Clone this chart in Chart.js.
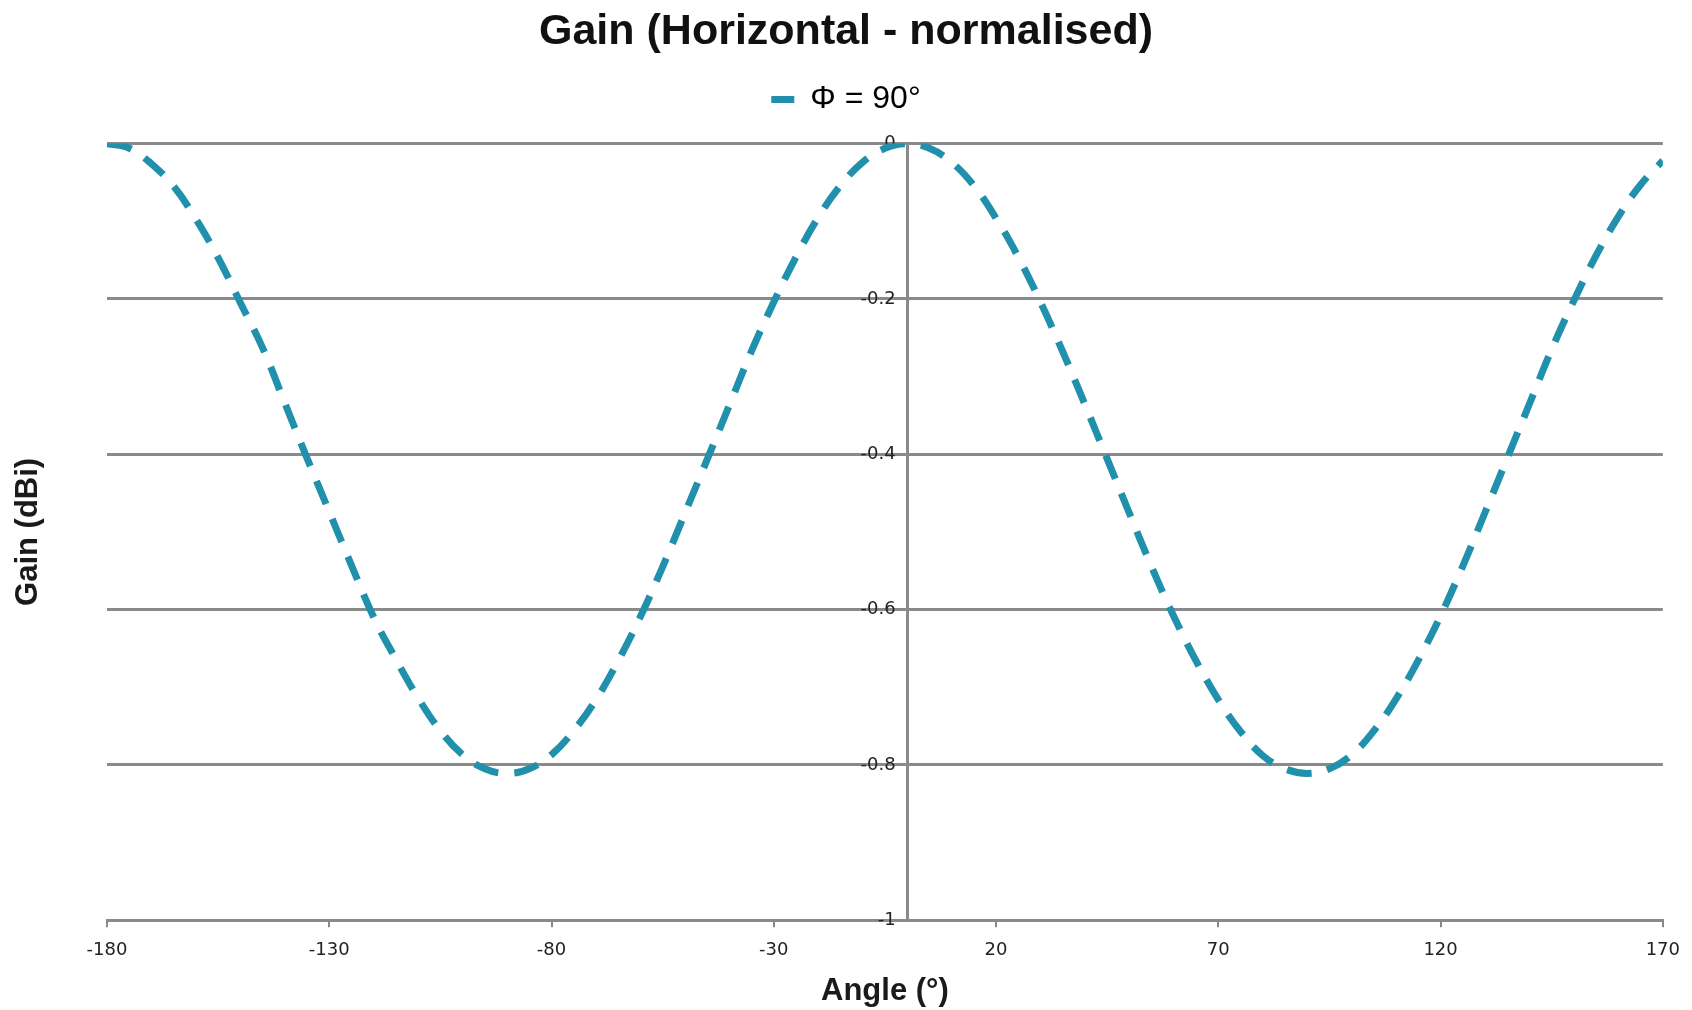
<!DOCTYPE html>
<html>
<head>
<meta charset="utf-8">
<script src="https://cdn.jsdelivr.net/npm/chart.js@4.4.0/dist/chart.umd.min.js"></script>
<style>
html,body{margin:0;padding:0;background:#fff;}
#wrap{width:1692px;height:1010px;}
</style>
</head>
<body>
<div id="wrap"><canvas id="c" width="1692" height="1010"></canvas></div>
<script>
const chartTitle = 'Gain (Horizontal - normalised)';
const seriesLabel = 'Φ = 90°';
const xAxisTitle = 'Angle (°)';
const yAxisTitle = 'Gain (dBi)';

const angles = [-180,-175,-170,-165,-160,-155,-150,-145,-140,-135,-130,-125,-120,-115,-110,-105,-100,-95,-90,
  -85,-80,-75,-70,-65,-60,-55,-50,-45,-40,-35,-30,-25,-20,-15,-10,-5,0,
  5,10,15,20,25,30,35,40,45,50,55,60,65,70,75,80,85,90,
  95,100,105,110,115,120,125,130,135,140,145,150,155,160,165,170];
const gains = [0,-0.006,-0.026,-0.055,-0.097,-0.147,-0.205,-0.263,-0.334,-0.405,-0.474,-0.543,-0.61,-0.664,-0.714,-0.756,-0.787,-0.805,-0.811,
  -0.805,-0.787,-0.756,-0.716,-0.666,-0.609,-0.545,-0.476,-0.407,-0.337,-0.267,-0.204,-0.146,-0.095,-0.054,-0.024,-0.006,0,
  -0.006,-0.024,-0.054,-0.096,-0.146,-0.204,-0.268,-0.336,-0.406,-0.476,-0.545,-0.609,-0.666,-0.716,-0.757,-0.788,-0.805,-0.811,
  -0.805,-0.787,-0.756,-0.715,-0.665,-0.608,-0.544,-0.475,-0.405,-0.335,-0.265,-0.202,-0.144,-0.094,-0.053,-0.022];
const xTickValues = [-180,-130,-80,-30,20,70,120,170];
const yTickValues = [-1,-0.8,-0.6,-0.4,-0.2,0];

const lineColor = '#2190ad';
const gridColor = '#8a8a8a';
const titleFont = '"Liberation Sans", Arial, sans-serif';
const tickFont = '"DejaVu Sans", sans-serif';

new Chart(document.getElementById('c'), {
  type: 'line',
  data: {
    datasets: [{
      label: seriesLabel,
      xAxisID: 'x',
      yAxisID: 'y',
      data: angles.map((a, i) => ({x: a, y: gains[i]})),
      borderColor: lineColor,
      backgroundColor: lineColor,
      borderWidth: 7,
      borderDash: [25, 16],
      borderCapStyle: 'butt',
      pointRadius: 0,
      tension: 0.4,
      fill: false
    }]
  },
  options: {
    responsive: false,
    animation: false,
    layout: {padding: {left: 0, right: 0, top: 0, bottom: 0}},
    plugins: {
      title: {
        display: true, text: chartTitle, color: '#111',
        font: {family: titleFont, size: 43, weight: 'bold'},
        padding: {top: 6, bottom: 16}
      },
      legend: {
        display: true,
        labels: {
          font: {family: titleFont, size: 32},
          color: '#333',
          boxWidth: 23, boxHeight: 7,
          generateLabels: () => [{text: seriesLabel, fillStyle: lineColor, strokeStyle: lineColor, lineWidth: 0, hidden: false, datasetIndex: 0}]
        }
      },
      tooltip: {enabled: false}
    },
    scales: {
      x: {
        type: 'linear', min: -180, max: 170, position: 'bottom',
        afterBuildTicks: s => { s.ticks = xTickValues.map(v => ({value: v})); },
        grid: {display: true, drawOnChartArea: false, drawTicks: true, tickLength: 7, color: gridColor, lineWidth: 2},
        border: {display: true, color: gridColor, width: 3},
        ticks: {font: {family: tickFont, size: 18}, color: '#222', padding: 12, maxRotation: 0, autoSkip: false},
        title: {display: true, text: xAxisTitle, color: '#1a1a1a',
          font: {family: titleFont, size: 31, weight: 'bold'}, padding: {top: 0, bottom: 0}}
      },
      xTopSpacer: {
        type: 'linear', position: 'top', display: true,
        ticks: {display: false}, grid: {display: false}, border: {display: false},
        afterFit: s => { s.height = 18; }
      },
      y: {
        type: 'linear', min: -1, max: 0, position: {x: 0},
        afterBuildTicks: s => { s.ticks = yTickValues.map(v => ({value: v})); },
        afterFit: s => { s.width = 0; },
        grid: {color: gridColor, lineWidth: 3, drawTicks: true, tickLength: 10},
        border: {display: true, color: gridColor, width: 3},
        ticks: {font: {family: tickFont, size: 18}, color: '#222', callback: v => v + '  '}
      },
      yLeftTitle: {
        type: 'linear', position: 'left', display: true,
        ticks: {display: false}, grid: {display: false}, border: {display: false},
        title: {display: true, text: yAxisTitle, color: '#1a1a1a',
          font: {family: titleFont, size: 31, weight: 'bold'}, padding: {top: 10, bottom: 0}},
        afterFit: s => { s.width = 107; }
      },
      yRightSpacer: {
        type: 'linear', position: 'right', display: true,
        ticks: {display: false}, grid: {display: false}, border: {display: false},
        afterFit: s => { s.width = 29; }
      }
    }
  }
});
</script>
</body>
</html>
